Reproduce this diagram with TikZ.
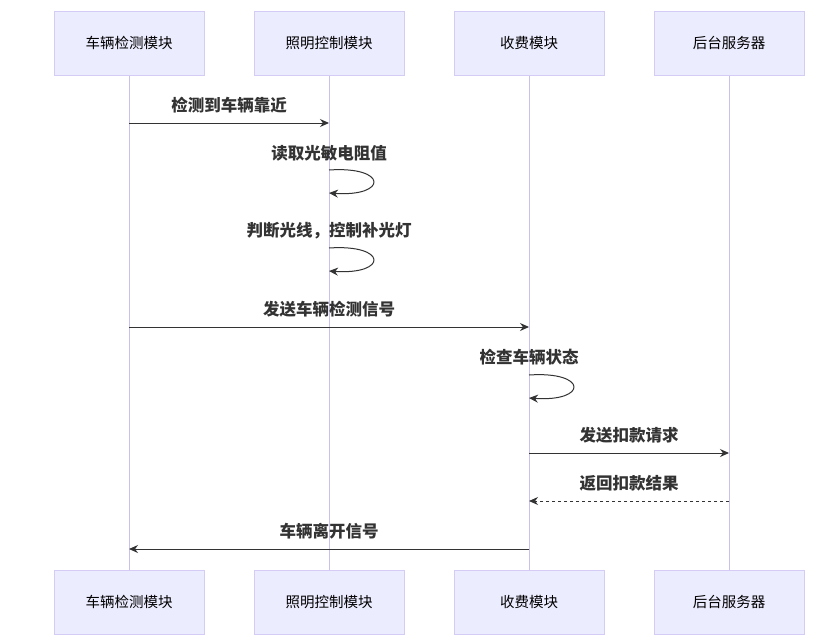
\documentclass[tikz,border=0pt]{standalone}
\usepackage{fontspec}
\setmainfont{Noto Sans CJK SC}
\usetikzlibrary{arrows.meta}
\definecolor{boxfill}{HTML}{ECECFF}
\definecolor{boxline}{HTML}{D4CCF4}
\definecolor{lifeline}{HTML}{C8C0EE}
\definecolor{txt}{HTML}{333333}
\tikzset{x=1pt,y=-1pt,
actor/.style={draw=boxline,fill=boxfill,minimum width=150pt,minimum height=64pt,font=\fontsize{14.5}{16}\selectfont,text=black},
msg/.style={draw=txt,line width=1pt,-{Stealth[length=9pt,width=8pt]}},
lbl/.style={font=\bfseries\fontsize{16.5}{18}\selectfont,text=txt}}
\begin{document}
\begin{tikzpicture}
\useasboundingbox (0,0) rectangle (834,640);
\fill[white] (0,0) rectangle (834,640);
\foreach \n/\x/\t in {a/129/车辆检测模块,b/329/照明控制模块,c/529/收费模块,d/729/后台服务器}{
  \draw[lifeline,line width=1pt] (\x,75) -- (\x,570);
  \node[actor] (\n1) at (\x,43) {\t};
  \node[actor] (\n2) at (\x,602) {\t};
}
\coordinate (a3) at (129,123); \coordinate (b3) at (329,123);
\draw[msg] (a3) -- (b3);
\node[lbl] at (229,105) {检测到车辆靠近};
\node[lbl] at (329,153) {读取光敏电阻值};
\coordinate (b4) at (329,170); \coordinate (b5) at (329,193);
\draw[msg] (b4) .. controls (388,166) and (388,197) .. (b5);
\node[lbl] at (329,231) {判断光线，控制补光灯};
\coordinate (b6) at (329,248); \coordinate (b7) at (329,271);
\draw[msg] (b6) .. controls (388,244) and (388,275) .. (b7);
\coordinate (a4) at (129,327); \coordinate (c3) at (529,327);
\draw[msg] (a4) -- (c3);
\node[lbl] at (329,309) {发送车辆检测信号};
\node[lbl] at (529,357) {检查车辆状态};
\coordinate (c4) at (529,375); \coordinate (c5) at (529,398);
\draw[msg] (c4) .. controls (588,371) and (588,402) .. (c5);
\coordinate (c6) at (529,453); \coordinate (d3) at (729,453);
\draw[msg] (c6) -- (d3);
\node[lbl] at (629,435) {发送扣款请求};
\coordinate (d4) at (729,501); \coordinate (c7) at (529,501);
\draw[msg,dashed] (d4) -- (c7);
\node[lbl] at (629,483) {返回扣款结果};
\coordinate (c8) at (529,549); \coordinate (a5) at (129,549);
\draw[msg] (c8) -- (a5);
\node[lbl] at (329,531) {车辆离开信号};
\end{tikzpicture}
\end{document}
